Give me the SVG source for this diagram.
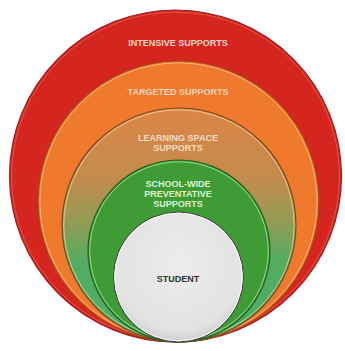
<svg xmlns="http://www.w3.org/2000/svg" width="345" height="351" viewBox="0 0 345 351">
<defs>
<linearGradient id="lsGrad" x1="0" y1="108" x2="0" y2="342" gradientUnits="userSpaceOnUse">
<stop offset="0" stop-color="#dc8547"/>
<stop offset="0.3" stop-color="#c38c4d"/>
<stop offset="0.5" stop-color="#8f9c55"/>
<stop offset="0.65" stop-color="#55ac62"/>
<stop offset="1" stop-color="#45ad68"/>
</linearGradient>
<radialGradient id="stuGrad" cx="0.5" cy="0.4" r="0.6">
<stop offset="0" stop-color="#ececec"/>
<stop offset="0.85" stop-color="#e2e2e2"/>
<stop offset="1" stop-color="#cfcfcf"/>
</radialGradient>
</defs>
<style>
.lbl{font-family:"Liberation Sans",Arial,sans-serif;font-weight:bold;font-size:9px;text-anchor:middle;}
.edge{fill:none;stroke-width:1.2;}
.hl{fill:none;stroke-width:1;}
</style>
<rect width="345" height="351" fill="#ffffff"/>
<g id="intensive">
<circle cx="175.5" cy="176" r="166" fill="#d4261f" stroke="#9e1a15" stroke-width="1.2"/>
<circle cx="175.5" cy="176" r="164" class="hl" stroke="#e8675f" stroke-opacity="0.7"/>
<text class="lbl" x="178" y="45.5" fill="#f6d3cb">INTENSIVE SUPPORTS</text>
</g>
<g id="targeted">
<circle cx="178.5" cy="201.5" r="140.5" fill="#ef792c" stroke="#a8461c" stroke-width="1.2"/>
<circle cx="178.5" cy="201.5" r="138.6" class="hl" stroke="#f9c08a" stroke-opacity="0.8"/>
<text class="lbl" x="178" y="95" fill="#f9d6bb">TARGETED SUPPORTS</text>
</g>
<g id="learning-space">
<circle cx="179" cy="225" r="117" fill="url(#lsGrad)" stroke="#7a4a22" stroke-width="1.2"/>
<circle cx="179" cy="225" r="115.2" class="hl" stroke="#f2d9a0" stroke-opacity="0.75"/>
<text class="lbl" x="178" y="140.5" fill="#f6dcc2">LEARNING SPACE</text>
<text class="lbl" x="178" y="150.5" fill="#f6dcc2">SUPPORTS</text>
</g>
<g id="school-wide">
<circle cx="179" cy="251" r="91" fill="#3e9b36" stroke="#2a5f22" stroke-width="1.2"/>
<circle cx="179" cy="251" r="89.2" class="hl" stroke="#a6e59a" stroke-opacity="0.85"/>
<text class="lbl" x="178" y="186.5" fill="#dcf5d2">SCHOOL-WIDE</text>
<text class="lbl" x="178" y="196.5" fill="#dcf5d2">PREVENTATIVE</text>
<text class="lbl" x="178" y="206.5" fill="#dcf5d2">SUPPORTS</text>
</g>
<g id="student">
<circle cx="178.5" cy="277" r="65" fill="url(#stuGrad)" stroke="#3a3a3a" stroke-width="1"/>
<circle cx="178.5" cy="277" r="63.8" class="hl" stroke="#ffffff" stroke-opacity="0.8"/>
<text class="lbl" x="178" y="281.5" fill="#343434">STUDENT</text>
</g>
<g id="connectors"></g>
</svg>
